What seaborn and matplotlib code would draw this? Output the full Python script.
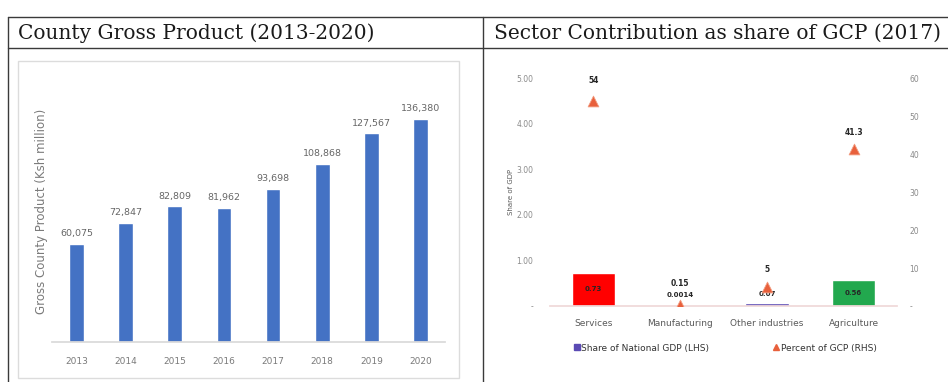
import matplotlib
matplotlib.use("Agg")
import matplotlib.pyplot as plt
from matplotlib.lines import Line2D
from matplotlib.patches import Rectangle
import seaborn as sns
import pandas as pd

# County Gross Product, Ksh million
years = ["2013", "2014", "2015", "2016", "2017", "2018", "2019", "2020"]
gcp = [60075, 72847, 82809, 81962, 93698, 108868, 127567, 136380]

# Sector contribution, 2017
sectors = ["Services", "Manufacturing", "Other industries", "Agriculture"]
share_national_gdp = [0.73, 0.0014, 0.07, 0.56]   # LHS
percent_of_gcp = [54, 0.15, 5, 41.3]              # RHS
share_labels = ["0.73", "0.0014", "0.07", "0.56"]
percent_labels = ["54", "0.15", "5", "41.3"]
sector_colors = ["#FF0000", "#5A4AB4", "#5A4AB4", "#22A84E"]

left_ticks = [0, 1, 2, 3, 4, 5]
left_ticklabels = ["-", "1.00", "2.00", "3.00", "4.00", "5.00"]
right_ticks = [0, 10, 20, 30, 40, 50, 60]
right_ticklabels = ["-", "10", "20", "30", "40", "50", "60"]

headers = ["County Gross Product (2013-2020)",
           "Sector Contribution as share of GCP (2017)"]

W, H = 948, 382
sns.set_theme(style="white")
plt.rcParams["font.family"] = ["DejaVu Sans"]

fig = plt.figure(figsize=(W / 100, H / 100), dpi=100)
fig.patch.set_facecolor("white")


def rect(x0, y0, x1, y1):
    return [x0 / W, 1 - y1 / H, (x1 - x0) / W, (y1 - y0) / H]


# ---- table frame and headers ----
bg = fig.add_axes([0, 0, 1, 1], zorder=-5)
bg.set_xlim(0, W)
bg.set_ylim(H, 0)
bg.axis("off")
line_kw = dict(color="#3a3a3a", lw=1.0)
bg.add_line(Line2D([8, W], [17, 17], **line_kw))
bg.add_line(Line2D([8, W], [48, 48], **line_kw))
bg.add_line(Line2D([8, 8], [17, H], **line_kw))
bg.add_line(Line2D([483, 483], [17, H], **line_kw))
bg.text(18, 33, headers[0], family="DejaVu Serif", fontsize=14.5,
        color="#1a1a1a", va="center", ha="left")
bg.text(494, 33, headers[1], family="DejaVu Serif", fontsize=14.5,
        color="#1a1a1a", va="center", ha="left")
bg.add_patch(Rectangle((18, 61), 441, 317, fill=False,
                       edgecolor="#DCDCDC", lw=1.0))

# ---- left chart: GCP bars ----
ax1 = fig.add_axes(rect(52, 80, 445, 342))
df1 = pd.DataFrame({"year": years, "gcp": gcp})
sns.barplot(data=df1, x="year", y="gcp", color="#4472C4", width=0.3,
            saturation=1, ax=ax1)
ax1.set_xlim(-0.5, 7.5)
ax1.set_ylim(0, 160000)
ax1.bar_label(ax1.containers[0], labels=[f"{v:,}" for v in gcp],
              padding=4, fontsize=6.8, color="#666666")
for s in ["top", "left", "right"]:
    ax1.spines[s].set_visible(False)
ax1.spines["bottom"].set_color("#D9D9D9")
ax1.set_yticks([])
ax1.set_xlabel("")
ax1.set_ylabel("Gross County Product (Ksh million)", fontsize=8.5,
               color="#7a7a7a", labelpad=3)
ax1.tick_params(axis="x", length=0, pad=11, labelsize=6.5, colors="#7a7a7a")
ax1.patch.set_alpha(0)

# ---- right chart: sector contribution ----
ax2 = fig.add_axes(rect(550, 78, 897, 306))
df2 = pd.DataFrame({"sector": sectors, "share": share_national_gdp})
sns.barplot(data=df2, x="sector", y="share", hue="sector",
            palette=sector_colors, width=0.5, saturation=1, legend=False,
            ax=ax2)
ax2.set_xlim(-0.5, 3.5)
ax2.set_ylim(0, 5)
ax2.set_yticks(left_ticks)
ax2.set_yticklabels(left_ticklabels)
ax2.set_xlabel("")
ax2.set_ylabel("Share of GDP", fontsize=5, color="#595959", labelpad=2)
ax2.tick_params(axis="y", length=0, pad=12, labelsize=5.5, colors="#8a8a8a")
ax2.tick_params(axis="x", length=0, pad=9, labelsize=6.5, colors="#595959")
for s in ["top", "left", "right"]:
    ax2.spines[s].set_visible(False)
ax2.spines["bottom"].set_color("#F0D8D8")
ax2.patch.set_alpha(0)

# share labels on the bars
share_offsets = [None, 11, 9, None]
for i, (v, lab, off) in enumerate(zip(share_national_gdp, share_labels,
                                      share_offsets)):
    if off is None:
        ax2.text(i, v / 2, lab, ha="center", va="center", fontsize=5,
                 color="#262626", fontweight="bold")
    else:
        ax2.annotate(lab, (i, v), xytext=(0, off), textcoords="offset pixels",
                     ha="center", va="center", fontsize=5, color="#262626",
                     fontweight="bold")

ax3 = ax2.twinx()
ax3.set_ylim(0, 60)
ax3.set_yticks(right_ticks)
ax3.set_yticklabels(right_ticklabels)
ax3.tick_params(axis="y", length=0, pad=9, labelsize=5.5, colors="#8a8a8a")
for s in ["top", "left", "right", "bottom"]:
    ax3.spines[s].set_visible(False)
ax3.scatter(range(len(sectors)), percent_of_gcp, marker="^", s=60,
            color="#E8603C", edgecolor="#F29A7E", linewidths=0.6, zorder=5)
pct_offsets = [20, 22, 17, 17]
for i, (v, lab, off) in enumerate(zip(percent_of_gcp, percent_labels,
                                      pct_offsets)):
    ax3.annotate(lab, (i, v), xytext=(0, off), textcoords="offset pixels",
                 ha="center", va="center", fontsize=5.5, color="#262626",
                 fontweight="bold")

handles = [
    Line2D([], [], marker="s", linestyle="none", markersize=4,
           color="#5A4AB4", label="Share of National GDP (LHS)"),
    Line2D([], [], marker="^", linestyle="none", markersize=5,
           color="#E8603C", label="Percent of GCP (RHS)"),
]
fig.legend(handles=handles, loc="center",
           bbox_to_anchor=(725 / W, 1 - 348 / H), ncol=2, frameon=False,
           fontsize=6.5, labelcolor="#333333", columnspacing=7,
           handletextpad=0.1, handlelength=0.8)

fig.savefig("out.png", dpi=100, facecolor="white")
